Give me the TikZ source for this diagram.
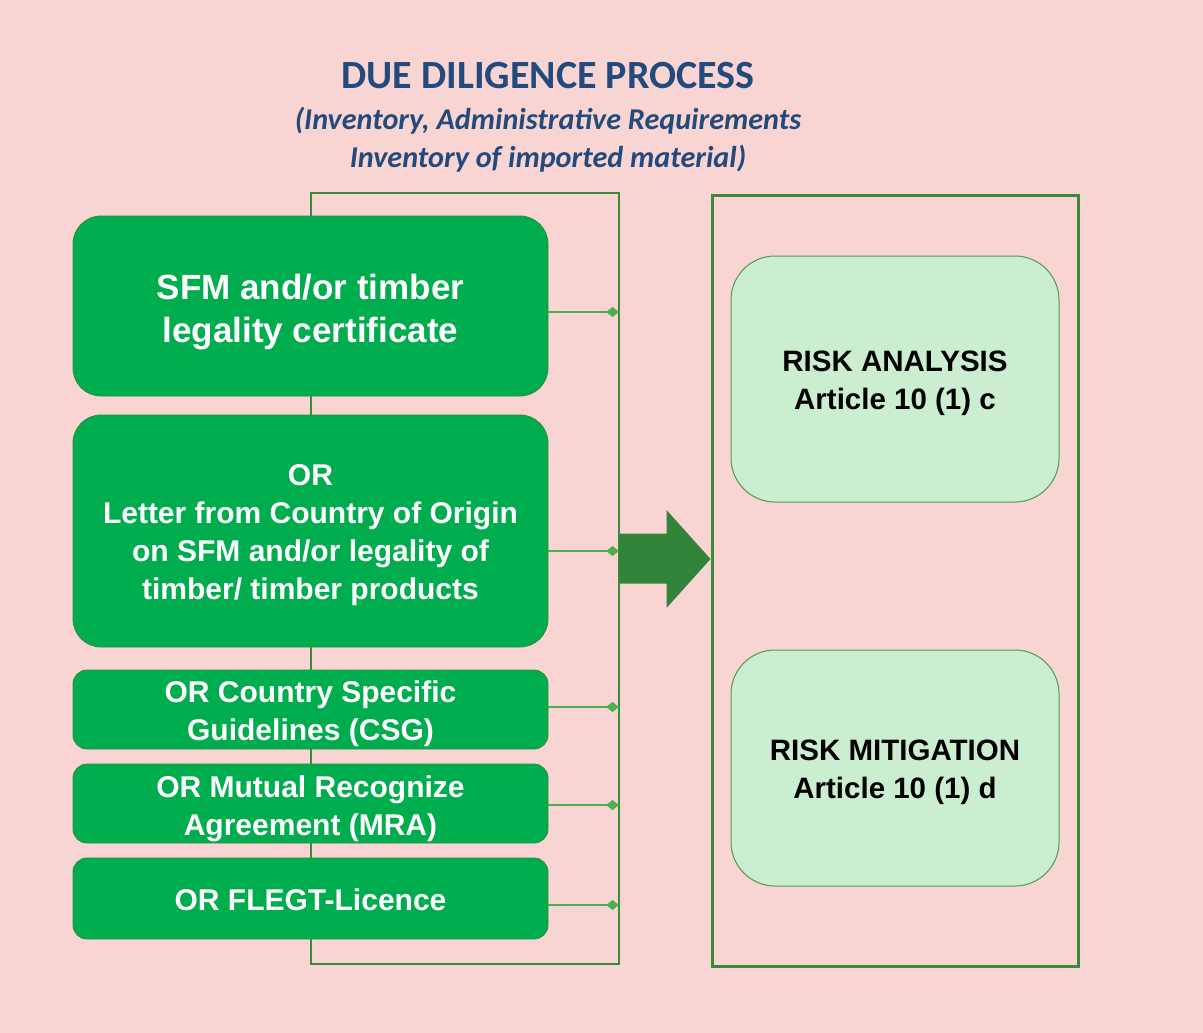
\documentclass[tikz,border=0pt]{standalone}
\usepackage{fontspec}
\setmainfont{Liberation Sans}
\newfontfamily\titlefont{Carlito}
\usetikzlibrary{arrows.meta,positioning,calc}

\definecolor{bgpink}{HTML}{F8D5D2}
\definecolor{titleblue}{HTML}{234A7C}
\definecolor{boxgreen}{HTML}{00AD4E}
\definecolor{boxedge}{HTML}{2E8B40}
\definecolor{linegreen}{HTML}{3A8A3C}
\definecolor{tipgreen}{HTML}{4CB050}
\definecolor{arrowgreen}{HTML}{31843A}
\definecolor{palegreen}{HTML}{CCEED0}
\definecolor{paleedge}{HTML}{4E9A50}

\tikzset{
  optbox/.style={draw=boxedge, line width=0.8pt, fill=boxgreen,
    minimum width=475pt, inner sep=0pt},
  bigopt/.style={optbox, rounded corners=28pt},
  smallopt/.style={optbox, rounded corners=14pt},
  opttext/.style={text=white, align=center, inner sep=0pt,
    font=\fontsize{30}{38}\selectfont\bfseries},
  riskbox/.style={draw=paleedge, line width=1pt, fill=palegreen,
    minimum width=328pt, rounded corners=44pt, inner sep=0pt},
  risktext/.style={text=black, align=center, inner sep=0pt,
    font=\fontsize{29.5}{38}\selectfont\bfseries},
  bracket/.style={draw=linegreen, line width=2.3pt},
  frameline/.style={draw=linegreen, line width=3pt},
  feed/.style={draw=tipgreen, line width=1.3pt,
    -{Diamond[length=13pt,width=10pt]}},
}

\begin{document}
\begin{tikzpicture}[x=1pt,y=-1pt]
  % page
  \fill[bgpink] (0,0) rectangle (1203,1033);
  \useasboundingbox (0,0) rectangle (1203,1033);

  % heading
  \node[text=titleblue, font=\titlefont\fontsize{40}{48}\selectfont\bfseries]
    (title) at (548,76) {DUE DILIGENCE PROCESS};
  \node[text=titleblue, align=center,
        font=\titlefont\fontsize{30.2}{38}\selectfont\bfseries\itshape]
    (subtitle) at (548,140) {(Inventory, Administrative Requirements\\Inventory of imported material)};

  % bracket collecting the alternatives
  \coordinate (brTL) at (311,193);
  \coordinate (brBR) at (619,964);
  \draw[bracket] (brTL) rectangle (brBR);

  % alternative sources of evidence
  \node[bigopt, minimum height=180pt] (sfm) at (310.5,306) {};
  \node[opttext, font=\fontsize{35}{43}\selectfont\bfseries] (sfmtext)
    at ($(sfm.center)+(0,6)$) {SFM and/or timber\\legality certificate};

  \node[bigopt, minimum height=232pt] (letter) at (310.5,531) {};
  \node[opttext] (lettertext) at ($(letter.center)+(0,4)$)
    {OR\\Letter from Country of Origin\\on SFM and/or legality of\\timber/ timber products};

  \node[smallopt, minimum height=79pt] (csg) at (310.5,709.5) {};
  \node[opttext] (csgtext) at ($(csg.center)+(0,4)$)
    {OR Country Specific\\Guidelines (CSG)};

  \node[smallopt, minimum height=79pt] (mra) at (310.5,803.5) {};
  \node[opttext] (mratext) at ($(mra.center)+(0,5)$)
    {OR Mutual Recognize\\Agreement (MRA)};

  \node[smallopt, minimum height=81pt] (flegt) at (310.5,898.5) {};
  \node[opttext] (flegttext) at ($(flegt.center)+(0,1)$) {OR FLEGT-Licence};

  % feeds into the bracket
  \draw[feed] ([yshift=-6pt]sfm.east) -- ([yshift=-6pt]sfm.east -| brBR);
  \draw[feed] ([yshift=-20pt]letter.east) -- ([yshift=-20pt]letter.east -| brBR);
  \draw[feed] ([yshift=2.5pt]csg.east) -- ([yshift=2.5pt]csg.east -| brBR);
  \draw[feed] ([yshift=-1.5pt]mra.east) -- ([yshift=-1.5pt]mra.east -| brBR);
  \draw[feed] ([yshift=-6.5pt]flegt.east) -- ([yshift=-6.5pt]flegt.east -| brBR);

  % risk frame
  \node[frameline, minimum width=366pt, minimum height=771pt, inner sep=0pt]
    (frame) at (895,580.5) {};
  \node[riskbox, minimum height=246pt] (analysis) at (895,379) {};
  \node[risktext] (analysistext) at ($(analysis.center)+(0,4)$)
    {RISK ANALYSIS\\Article 10 (1) c};
  \node[riskbox, minimum height=236pt] (mitigation) at (895,768) {};
  \node[risktext] (mitigationtext) at ($(mitigation.center)+(0,4)$)
    {RISK MITIGATION\\Article 10 (1) d};

  % block arrow from the bracket to the frame
  \fill[arrowgreen] (619,533.5) -- (666.5,533.5) -- (666.5,510) -- (frame.west |- 0,559)
    -- (666.5,608) -- (666.5,583.5) -- (619,583.5) -- cycle;
\end{tikzpicture}
\end{document}
